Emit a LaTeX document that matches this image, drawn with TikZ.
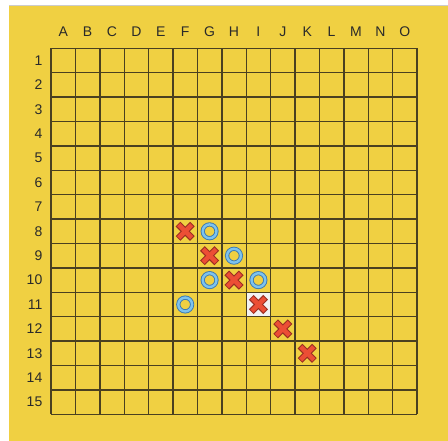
\documentclass[tikz,border=0pt]{standalone}
\usepackage{fontspec}
\setmainfont{Liberation Sans}
\definecolor{boardbg}{HTML}{F0D042}
\definecolor{gridline}{HTML}{4A4020}
\definecolor{labeltxt}{HTML}{2A2A2A}
\definecolor{cellhi}{HTML}{F2F2F2}
\definecolor{xred}{HTML}{EC4E35}
\definecolor{xdark}{HTML}{9A2E22}
\definecolor{oblue}{HTML}{7DC3EE}
\definecolor{odark}{HTML}{3B78B0}
\def\s{24.4}
\def\ox{51}
\def\oy{48.3}
\tikzset{
  gridstyle/.style={draw=gridline, line width=1.4},
  lab/.style={font=\fontsize{14}{14}\selectfont, text=labeltxt, inner sep=0pt},
  xpiece/.style={minimum size=22, inner sep=0pt, path picture={
      \draw[xdark, line width=6.6] ([shift={(-7.2,-7.2)}]path picture bounding box.center) -- ([shift={(7.2,7.2)}]path picture bounding box.center);
      \draw[xdark, line width=6.6] ([shift={(-7.2,7.2)}]path picture bounding box.center) -- ([shift={(7.2,-7.2)}]path picture bounding box.center);
      \draw[xred, line width=4.4] ([shift={(-6.5,-6.5)}]path picture bounding box.center) -- ([shift={(6.5,6.5)}]path picture bounding box.center);
      \draw[xred, line width=4.4] ([shift={(-6.5,6.5)}]path picture bounding box.center) -- ([shift={(6.5,-6.5)}]path picture bounding box.center);
    }},
  opiece/.style={minimum size=22, inner sep=0pt, path picture={
      \draw[odark, line width=4.2] (path picture bounding box.center) circle (6.9);
      \draw[oblue, line width=2.4] (path picture bounding box.center) circle (6.9);
    }}
}
\begin{document}
\begin{tikzpicture}[x=1pt,y=-1pt]
\useasboundingbox (0,0) rectangle (448,441);
\fill[white] (0,0) rectangle (448,441);
\fill[boardbg] (9,5) rectangle (448,441);
\draw[black!20, line width=0.6] (9,5.3) -- (448,5.3);
% highlighted cell I11
\fill[cellhi] ({\ox+8*\s},{\oy+10*\s}) rectangle ++(\s,\s);
% grid
\foreach \i in {0,...,15} {
  \draw[gridstyle] ({\ox+\i*\s},\oy) -- ({\ox+\i*\s},{\oy+15*\s});
  \draw[gridstyle] (\ox,{\oy+\i*\s}) -- ({\ox+15*\s},{\oy+\i*\s});
}
% column labels
\foreach \c [count=\i] in {A,B,C,D,E,F,G,H,I,J,K,L,M,N,O} {
  \node[lab] (col-\c) at ({\ox+(\i-0.5)*\s},32) {\c};
}
% row labels
\foreach \r in {1,...,15} {
  \node[lab, anchor=east] (row-\r) at (42.5,{\oy+(\r-0.5)*\s}) {\r};
}
% X pieces
\foreach \cc/\rr in {6/8,7/9,8/10,9/11,10/12,11/13} {
  \node[xpiece] (x-\cc-\rr) at ({\ox+(\cc-0.5)*\s},{\oy+(\rr-0.5)*\s}) {};
}
% O pieces
\foreach \cc/\rr in {7/8,8/9,7/10,9/10,6/11} {
  \node[opiece] (o-\cc-\rr) at ({\ox+(\cc-0.5)*\s},{\oy+(\rr-0.5)*\s}) {};
}
\end{tikzpicture}
\end{document}
